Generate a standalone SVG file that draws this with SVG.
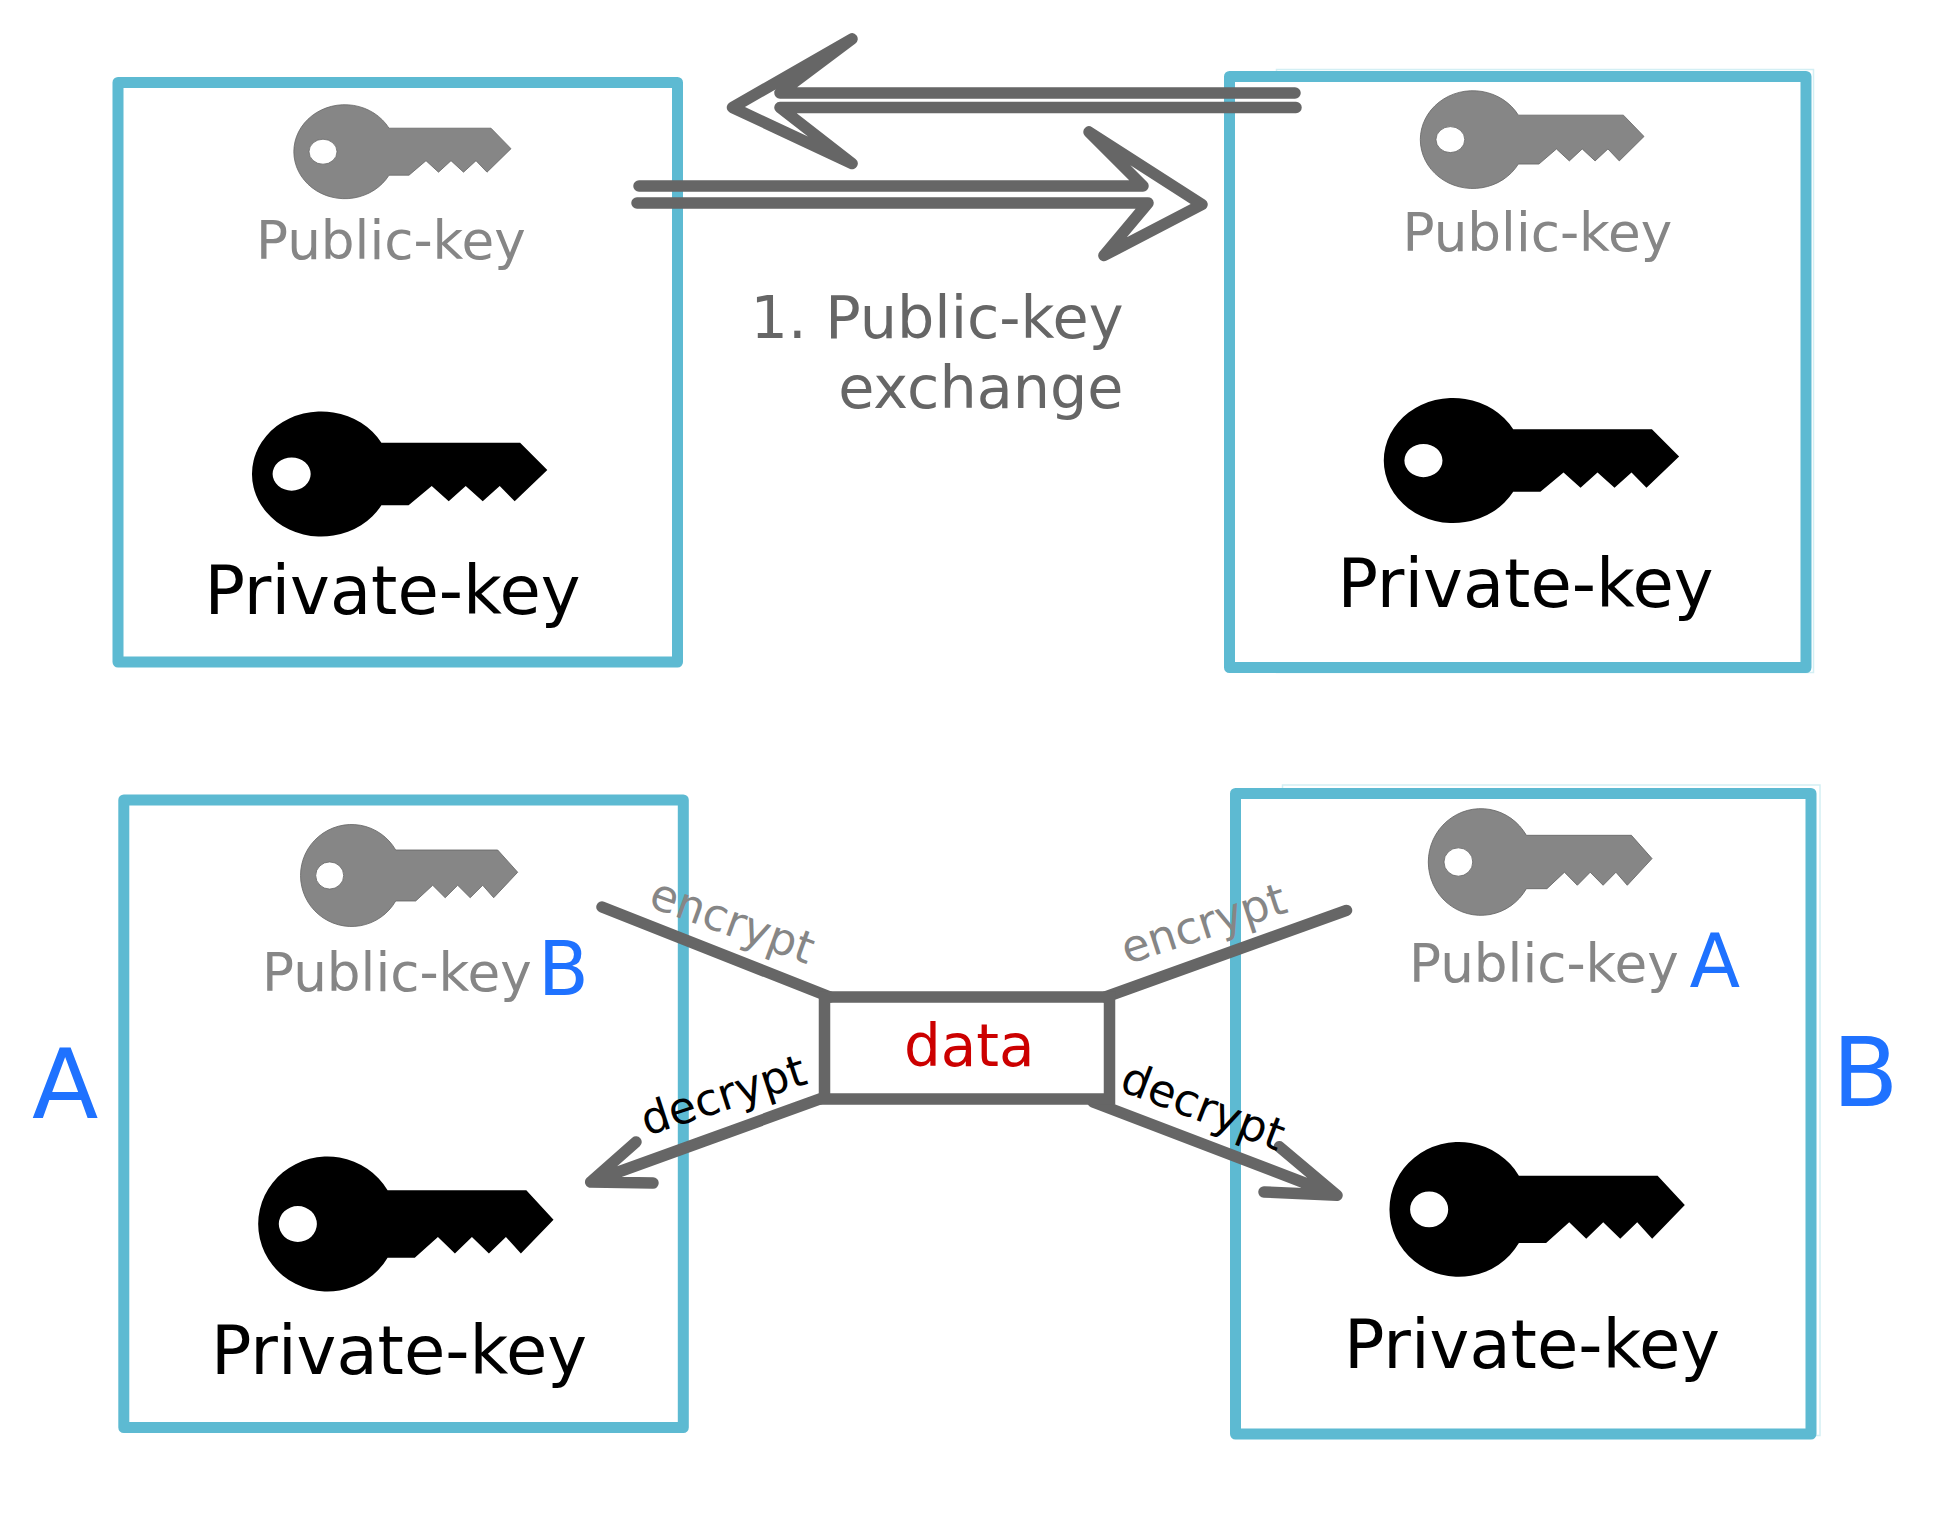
<svg xmlns="http://www.w3.org/2000/svg" xmlns:xlink="http://www.w3.org/1999/xlink" width="1949" height="1521" viewBox="0 0 1949 1521">
<style>
text{font-family:"DejaVu Sans",sans-serif}
.frame{fill:#fff;stroke:#5dbad2;stroke-width:11;stroke-linejoin:round}
.ghost{fill:none;stroke:#d3eff4;stroke-width:1.5}
.pub{fill:#868686;stroke:#666;stroke-width:.8}
.priv{fill:#000}
.lp{font-size:53.2px;fill:#868686}
.lv{font-size:67.2px;fill:#000}
.who{fill:#1f72ff}
.big{font-size:97px}
.small{font-size:74px}
.note{font-size:58.8px;fill:#666;text-anchor:end}
.conn{fill:none;stroke:#666;stroke-width:11.5;stroke-linecap:round;stroke-linejoin:round}
.tag{font-size:44.6px}
</style>
<defs>
<path id="key" fill-rule="evenodd" d="M45,-23.5 L147,-23.5 L167,-3 L143,20.5 L132,9 L119.5,20.5 L107,9 L94.5,20.5 L82,9 L65,23.5 L45,23.5 A51,47 0 1 1 45,-23.5Z M-35,0 A14,12.5 0 1 0 -7,0 A14,12.5 0 1 0 -35,0Z"/>
</defs>
<rect width="1949" height="1521" fill="#fff"/>
<g id="box-top-left">
<rect class="frame" x="118" y="82.5" width="559.5" height="579.5"/>
<use xlink:href="#key" href="#key" class="pub" transform="translate(344 151.7)"/>
<text class="lp" x="256" y="259">Public-key</text>
<use xlink:href="#key" href="#key" class="priv" transform="translate(320.2 474) scale(1.36 1.33)"/>
<text class="lv" x="204.5" y="614">Private-key</text>
</g>
<g id="box-top-right">
<rect class="ghost" x="1276.5" y="69.5" width="537" height="603"/>
<rect class="frame" x="1229.5" y="76.5" width="576.5" height="591"/>
<use xlink:href="#key" href="#key" class="pub" transform="translate(1472 139.6) scale(1.03 1.04)"/>
<text class="lp" x="1402.5" y="251">Public-key</text>
<use xlink:href="#key" href="#key" class="priv" transform="translate(1452 460.5) scale(1.36 1.33)"/>
<text class="lv" x="1337.5" y="607">Private-key</text>
</g>
<g id="box-bottom-left">
<rect class="frame" x="123.8" y="800" width="559.5" height="627.5"/>
<use xlink:href="#key" href="#key" class="pub" transform="translate(350.7 875.5) scale(1 1.085)"/>
<text class="lp" x="262" y="990.5">Public-key</text>
<use xlink:href="#key" href="#key" class="priv" transform="translate(326.4 1224) scale(1.36 1.435)"/>
<text class="lv" x="211" y="1374">Private-key</text>
</g>
<g id="box-bottom-right">
<rect class="ghost" x="1282.5" y="785" width="537.5" height="650.5"/>
<rect class="frame" x="1235.5" y="793.5" width="575.5" height="640.5"/>
<use xlink:href="#key" href="#key" class="pub" transform="translate(1480 862) scale(1.03 1.135)"/>
<text class="lp" x="1409" y="982">Public-key</text>
<use xlink:href="#key" href="#key" class="priv" transform="translate(1457.7 1209.4) scale(1.36 1.435)"/>
<text class="lv" x="1344" y="1368">Private-key</text>
</g>
<g id="connectors">
<path class="conn" d="M1295,93 H780 L852,39 L732.5,107.5 L852,163.5 L780,107.5 H1296"/>
<path class="conn" d="M639,186 H1143 L1089,132 L1202,204.5 L1104,255.5 L1148,203 H637"/>
<path class="conn" d="M602,907 L830,997 M1346.5,910.4 L1105.5,997 M820.8,1098.7 L590.7,1182 M636,1142 L590.7,1182 L653,1183 M1093,1102 L1337,1195.3 M1279.4,1146.8 L1337,1195.3 L1264,1192"/>
</g>
<g id="data">
<rect x="824.5" y="997" width="285" height="102" fill="none" stroke="#666" stroke-width="11.5"/>
<text x="904" y="1065.7" font-size="58" fill="#cc0000">data</text>
</g>
<g id="labels">
<text class="note" x="1123.5" y="337.5">1. Public-key</text>
<text class="note" x="1123.5" y="407.5">exchange</text>
<text class="who small" x="538" y="995">B</text>
<text class="who small" x="1689.5" y="986.6">A</text>
<text class="who big" x="32" y="1118">A</text>
<text class="who big" x="1832" y="1106">B</text>
<text class="tag" fill="#868686" transform="translate(647 906) rotate(20)">encrypt</text>
<text class="tag" fill="#868686" transform="translate(1127 964.5) rotate(-18)">encrypt</text>
<text class="tag" fill="#000" transform="translate(646.7 1136) rotate(-18)">decrypt</text>
<text class="tag" fill="#000" transform="translate(1118 1090) rotate(21)">decrypt</text>
</g>
</svg>
